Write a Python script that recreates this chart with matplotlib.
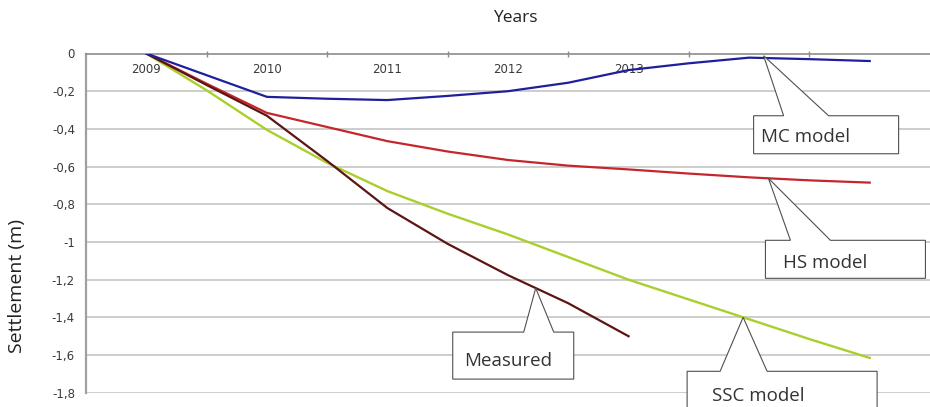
import numpy as np
import matplotlib.pyplot as plt
from matplotlib.patches import Polygon

# half-year sampling for the model curves, measured stops in 2013
years = [2009, 2009.5, 2010, 2010.5, 2011, 2011.5, 2012, 2012.5, 2013, 2013.5, 2014, 2014.5, 2015]
mc_model = [0, -0.115, -0.23, -0.24, -0.247, -0.225, -0.20, -0.155, -0.088, -0.052, -0.022, -0.03, -0.04]
hs_model = [0, -0.16, -0.315, -0.39, -0.465, -0.52, -0.565, -0.595, -0.615, -0.637, -0.657, -0.673, -0.685]
ssc_model = [0, -0.195, -0.405, -0.58, -0.73, -0.85, -0.96, -1.08, -1.20, -1.305, -1.41, -1.515, -1.615]

measured_years = [2009, 2009.5, 2010, 2010.5, 2011, 2011.5, 2012, 2012.5, 2013]
measured = [0, -0.167, -0.33, -0.57, -0.82, -1.01, -1.176, -1.325, -1.50]

year_labels = ['2009', '2010', '2011', '2012', '2013']
ytick_values = [0, -0.2, -0.4, -0.6, -0.8, -1.0, -1.2, -1.4, -1.6, -1.8]
ytick_labels = ['0', '-0,2', '-0,4', '-0,6', '-0,8', '-1', '-1,2', '-1,4', '-1,6', '-1,8']

W, H = 930, 407
fig = plt.figure(figsize=(W / 100, H / 100), dpi=100)
ax = fig.add_axes([86 / W, 1 - 392.8 / H, (W - 86) / W, (392.8 - 53.5) / H])
ax.set_xlim(2008.5, 2015.5)
ax.set_ylim(-1.8, 0)

# grid + spines
for v in ytick_values[1:]:
    ax.axhline(v, color='#c0c0c0', lw=1.1, zorder=1)
for s in ['right', 'bottom']:
    ax.spines[s].set_visible(False)
ax.spines['top'].set_color('#8c8c8c')
ax.spines['top'].set_linewidth(1.2)
ax.spines['left'].set_color('#a0a0a0')
ax.spines['left'].set_linewidth(1.6)

ax.set_yticks(ytick_values)
ax.set_yticklabels(ytick_labels, fontsize=8.5, color='#3a3a3a', family='DejaVu Sans')
ax.tick_params(axis='y', length=0, pad=8)
ax.xaxis.set_ticks_position('top')
ax.set_xticks(np.arange(2009.5, 2015, 1.0))
ax.set_xticklabels([])
ax.tick_params(axis='x', direction='inout', length=5, color='#8c8c8c', width=1)

for lab in year_labels:
    ax.text(float(lab), -0.087, lab, ha='center', va='center', fontsize=8.5,
            color='#3a3a3a', family='DejaVu Sans', zorder=2)

ax.plot(years, ssc_model, color='#a9cf2c', lw=1.7, zorder=3)
ax.plot(years, hs_model, color='#c4262c', lw=1.6, zorder=3)
ax.plot(measured_years, measured, color='#5c1414', lw=1.6, zorder=4)
ax.plot(years, mc_model, color='#1f1f9c', lw=1.6, zorder=4)

fig.text(515 / W, 1 - 18 / H, 'Years', ha='center', va='center', fontsize=12.5,
         family='Open Sans', color='#222222')
fig.text(17 / W, 1 - 286 / H, 'Settlement (m)', ha='center', va='center', rotation=90,
         fontsize=14, family='Open Sans', color='#222222')

# callouts: tip on a curve, box geometry in pixels relative to the tip
px_x = (W - 86) / 7.0
px_y = (392.8 - 53.5) / 1.8


def callout(tx, ty, text, L, R, T, B, w1, w2, txt_dx, txt_dy):
    pts = [(L, T), (w1, T), (0, 0), (w2, T), (R, T), (R, B), (L, B)]
    verts = [(tx + dx / px_x, ty - dy / px_y) for dx, dy in pts]
    ax.add_patch(Polygon(verts, closed=True, facecolor='white', edgecolor='#505050',
                         lw=0.8, zorder=6, clip_on=False))
    ax.text(tx + txt_dx / px_x, ty - txt_dy / px_y, text, ha='left', va='center',
            fontsize=13.5, family='Open Sans', color='#333333', zorder=7, clip_on=False)


callout(2014.12, np.interp(2014.12, years, mc_model) + 0.012, 'MC model', -10, 135, 60, 98, 20, 65, -3, 81)
callout(2014.16, np.interp(2014.16, years, hs_model), 'HS model', -3, 157, 62, 100, 22, 62, 15, 85)
callout(2012.23, np.interp(2012.23, measured_years, measured), 'Measured', -83, 38, 44, 91, -12, 18, -72, 73)
callout(2013.95, np.interp(2013.95, years, ssc_model), 'SSC model', -56, 134, 54, 110, -23, 24, -31, 79)

fig.savefig('out.png', dpi=100)
